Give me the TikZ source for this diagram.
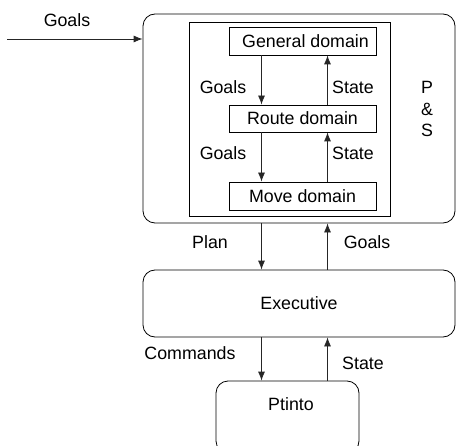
\documentclass[tikz,border=0pt]{standalone}
\usepackage{fontspec}
\setmainfont{Liberation Sans}
\usetikzlibrary{positioning,arrows.meta}

\begin{document}
\begin{tikzpicture}[x=1pt, y=-1pt, line width=0.8pt,
    font=\fontsize{17.8}{21.5}\selectfont,
    roundbox/.style={draw, rounded corners=12pt, inner sep=0pt},
    domainbox/.style={draw, minimum width=147pt, minimum height=28pt, inner sep=0pt},
    flow/.style={-{Latex[length=9pt,width=7pt]}, black!85}]
  \useasboundingbox (0,0) rectangle (457,446);
  % outer planner box and its inner frame
  \node[roundbox, minimum width=312pt, minimum height=209pt] (PS) at (299,118.5) {};
  \node[draw, minimum width=201pt, minimum height=194pt, inner sep=0pt] (frame) at (289.5,119) {};
  \node[align=center, inner sep=0pt] (PS-text) at (427,109) {P\\\&\\S};
  % the three domains
  \node[domainbox] (general) at (302.5,41) {\hspace*{6pt}General domain};
  \node[domainbox, minimum height=27pt] (route) at (302.5,118.5) {Route domain};
  \node[domainbox] (move) at (302.5,196) {Move domain};
  % lower layers
  \node[roundbox, minimum width=312pt, minimum height=67pt] (exec) at (299,303.5) {Executive};
  \node[roundbox, minimum width=143pt, minimum height=72pt] (ptinto) at (287.5,417) {};
  \node[inner sep=0pt] (ptinto-text) at (291,404) {Ptinto};
  % columns of the connectors
  \coordinate (down) at (261.5,0);
  \coordinate (up) at (327.5,0);
  \coordinate (in) at (7,39);
  \draw[flow] (in) -- (in -| PS.west);
  \foreach \a/\b in {general/route, route/move, PS/exec, exec/ptinto} {
    \draw[flow] (\a.south -| down) -- (\b.north -| down);
    \draw[flow] (\b.north -| up) -- (\a.south -| up);
  }
  % connector labels
  \node (goals-in) at (67,20) {Goals};
  \node (goals-1) at (223,87) {Goals};
  \node (state-1) at (353,87) {State};
  \node (goals-2) at (223,153) {Goals};
  \node (state-2) at (353,153) {State};
  \node (plan) at (210,242) {Plan};
  \node (goals-3) at (367,242) {Goals};
  \node (commands) at (190,353) {Commands};
  \node (state-3) at (363,363) {State};
\end{tikzpicture}
\end{document}
